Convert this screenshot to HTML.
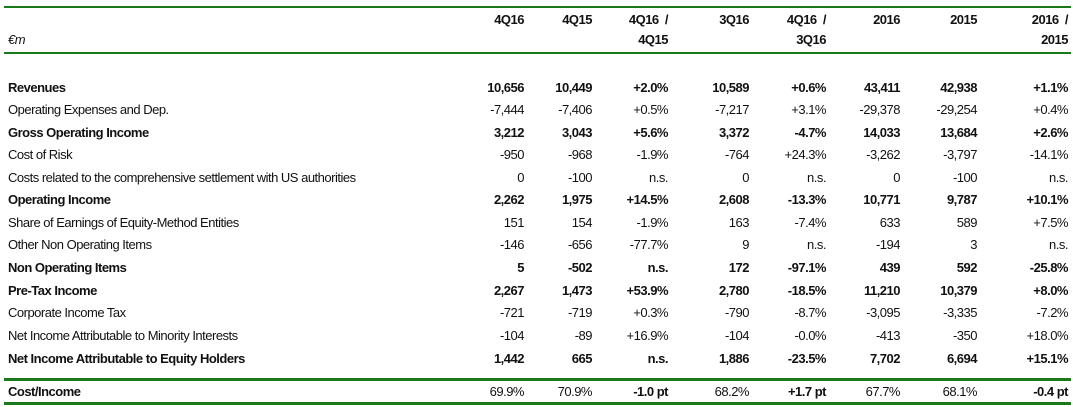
<!DOCTYPE html>
<html><head><meta charset="utf-8"><style>
body{margin:0;width:1073px;height:407px;background:#fff;position:relative;overflow:hidden;font-family:"Liberation Sans",Arial,sans-serif;font-size:13px;letter-spacing:-0.5px;color:#111}
.t{position:absolute;white-space:pre;line-height:16px}
.r{text-align:right}
.b{font-weight:bold}
.ln{position:absolute;left:4px;width:1067px;background:#1a7a1a}
</style></head><body>
<div class="ln" style="top:6px;height:2px"></div>
<div class="ln" style="top:52px;height:2px"></div>
<div class="ln" style="top:378px;height:3px"></div>
<div class="ln" style="top:402px;height:3px"></div>
<div class="t" style="left:8px;top:32px;font-style:italic">€m</div>
<script>
const colRight=[524,592,668,749,826,900,977,1068];
const head1=["4Q16","4Q15","4Q16  /","3Q16","4Q16  /","2016","2015","2016  /"];
const head2=["","","4Q15","","3Q16","","","2015"];
const labels=["Revenues","Operating Expenses and Dep.","Gross Operating Income","Cost of Risk","Costs related to the comprehensive settlement with US authorities","Operating Income","Share of Earnings of Equity-Method Entities","Other Non Operating Items","Non Operating Items","Pre-Tax Income","Corporate Income Tax","Net Income Attributable to Minority Interests","Net Income Attributable to Equity Holders","Cost/Income"];
const bold=[1,0,1,0,0,1,0,0,1,1,0,0,1,1];
const values=[
["10,656","10,449","+2.0%","10,589","+0.6%","43,411","42,938","+1.1%"],
["-7,444","-7,406","+0.5%","-7,217","+3.1%","-29,378","-29,254","+0.4%"],
["3,212","3,043","+5.6%","3,372","-4.7%","14,033","13,684","+2.6%"],
["-950","-968","-1.9%","-764","+24.3%","-3,262","-3,797","-14.1%"],
["0","-100","n.s.","0","n.s.","0","-100","n.s."],
["2,262","1,975","+14.5%","2,608","-13.3%","10,771","9,787","+10.1%"],
["151","154","-1.9%","163","-7.4%","633","589","+7.5%"],
["-146","-656","-77.7%","9","n.s.","-194","3","n.s."],
["5","-502","n.s.","172","-97.1%","439","592","-25.8%"],
["2,267","1,473","+53.9%","2,780","-18.5%","11,210","10,379","+8.0%"],
["-721","-719","+0.3%","-790","-8.7%","-3,095","-3,335","-7.2%"],
["-104","-89","+16.9%","-104","-0.0%","-413","-350","+18.0%"],
["1,442","665","n.s.","1,886","-23.5%","7,702","6,694","+15.1%"],
["69.9%","70.9%","-1.0 pt","68.2%","+1.7 pt","67.7%","68.1%","-0.4 pt"]];
const rowTop=[80,102,125,147,170,192,215,237,260,283,305,328,351,384];
function add(txt,x,y,right,b,name){
  const d=document.createElement('div');
  d.className='t'+(b?' b':'')+(right?' r':'');
  d.textContent=txt;
  if(right){d.style.left=(x-120)+'px';d.style.width='120px';}else d.style.left=x+'px';
  d.style.top=y+'px';
  
  
  document.body.appendChild(d);
}
head1.forEach((h,i)=>{add(h,colRight[i],12,true,1,'column-header');if(head2[i])add(head2[i],colRight[i],32,true,1,'column-header-sub');});
labels.forEach((l,r)=>{
  add(l,8,rowTop[r],false,bold[r],'row-label');
  values[r].forEach((v,c)=>{
    const b=r==13?(c==2||c==4||c==7):bold[r];
    add(v,colRight[c],rowTop[r],true,b,'cell-value');
  });
});
</script>
</body></html>
